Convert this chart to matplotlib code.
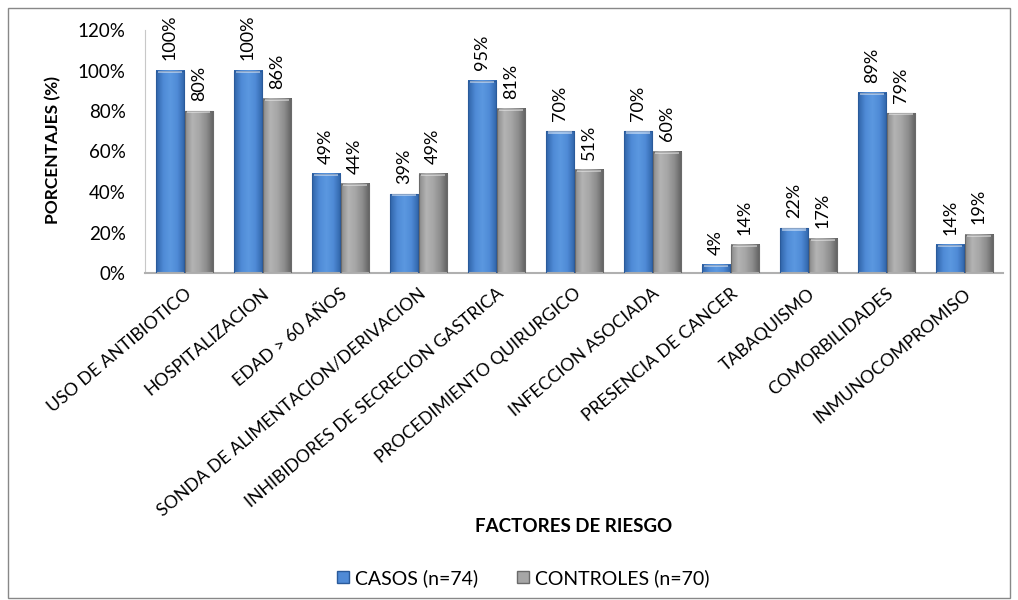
import numpy as np
import matplotlib
matplotlib.use("Agg")
import matplotlib.pyplot as plt
from matplotlib.colors import LinearSegmentedColormap
from matplotlib.patches import Rectangle, Patch

plt.rcParams["font.family"] = ["Lato", "DejaVu Sans"]

categories = [
    "USO DE ANTIBIOTICO", "HOSPITALIZACION", "EDAD > 60 AÑOS",
    "SONDA DE ALIMENTACION/DERIVACION", "INHIBIDORES DE SECRECION GASTRICA",
    "PROCEDIMIENTO QUIRURGICO", "INFECCION ASOCIADA", "PRESENCIA DE CANCER",
    "TABAQUISMO", "COMORBILIDADES", "INMUNOCOMPROMISO",
]
casos = [100, 100, 49, 39, 95, 70, 70, 4, 22, 89, 14]
controles = [80, 86, 44, 49, 81, 51, 60, 14, 17, 79, 19]
series_names = ["CASOS (n=74)", "CONTROLES (n=70)"]

blue_cmap = LinearSegmentedColormap.from_list(
    "blue", ["#2f64a8", "#4f8ad6", "#5b98e0", "#4f8ad6", "#2f64a8"])
gray_cmap = LinearSegmentedColormap.from_list(
    "gray", ["#8a8a8a", "#b4b4b4", "#a6a6a6", "#8c8c8c", "#606060"])

fig = plt.figure(figsize=(10.18, 6.0), dpi=100)
ax = fig.add_axes([0.1424, 0.545, 0.843, 0.405])

# outer chart border
fig.patches.append(Rectangle((0.008, 0.003), 0.984, 0.984, transform=fig.transFigure,
                             fill=False, edgecolor="#888888", linewidth=1.0))

x = np.arange(len(categories))
w = 0.36
grad = np.linspace(0, 1, 64).reshape(1, -1)


def gradient_bar(xc, h, cmap, edge):
    x0, x1 = xc - w / 2, xc + w / 2
    ax.imshow(grad, cmap=cmap, extent=(x0, x1, 0, h), aspect="auto", zorder=2)
    ax.add_patch(Rectangle((x0, 0), w, h, fill=False, edgecolor=edge,
                           linewidth=0.8, zorder=3))
    # light cap on top
    if h > 2:
        ax.add_patch(Rectangle((x0 + 0.03, h - 1.2), w - 0.06, 1.2,
                               facecolor="white", alpha=0.45, edgecolor="none", zorder=3))


for xi, (c, k) in enumerate(zip(casos, controles)):
    xc_b = xi - w / 2
    xc_g = xi + w / 2 + 0.01
    gradient_bar(xc_b, c, blue_cmap, "#2a5a9a")
    gradient_bar(xc_g, k, gray_cmap, "#6a6a6a")
    ax.text(xc_b, c + 5, f"{c}%", rotation=90, ha="center", va="bottom", fontsize=13)
    ax.text(xc_g, k + 5, f"{k}%", rotation=90, ha="center", va="bottom", fontsize=13)

ax.set_xlim(-0.5, len(categories) - 0.5)
ax.set_ylim(0, 120)
ax.set_yticks(range(0, 121, 20))
ax.set_yticklabels([f"{v}%" for v in range(0, 121, 20)], fontsize=13.5)
ax.set_xticks(x)
ax.set_xticklabels(categories, rotation=40, ha="right", rotation_mode="anchor", fontsize=12.7)
ax.tick_params(axis="both", length=0, pad=9)
ax.tick_params(axis="y", pad=14)
for s in ["top", "right"]:
    ax.spines[s].set_visible(False)
ax.spines["left"].set_color("#c8c8c8")
ax.spines["bottom"].set_color("#b0b0b0")
ax.spines["bottom"].set_linewidth(1.5)

fig.text(0.052, 0.75, "PORCENTAJES (%)", rotation=90, ha="center", va="center",
         fontsize=12.5, fontweight="bold")
fig.text(0.563, 0.122, "FACTORES DE RIESGO", ha="center", va="center",
         fontsize=13.5, fontweight="bold")

handles = [Patch(facecolor="#4f8ad6", edgecolor="#2a5a9a"),
           Patch(facecolor="#a6a6a6", edgecolor="#6a6a6a")]
fig.legend(handles, series_names, loc="center", bbox_to_anchor=(0.514, 0.037),
           ncol=2, frameon=False, fontsize=14, handlelength=0.6, handleheight=0.6,
           handletextpad=0.3, columnspacing=2.0)

fig.savefig("out.png", dpi=100)
